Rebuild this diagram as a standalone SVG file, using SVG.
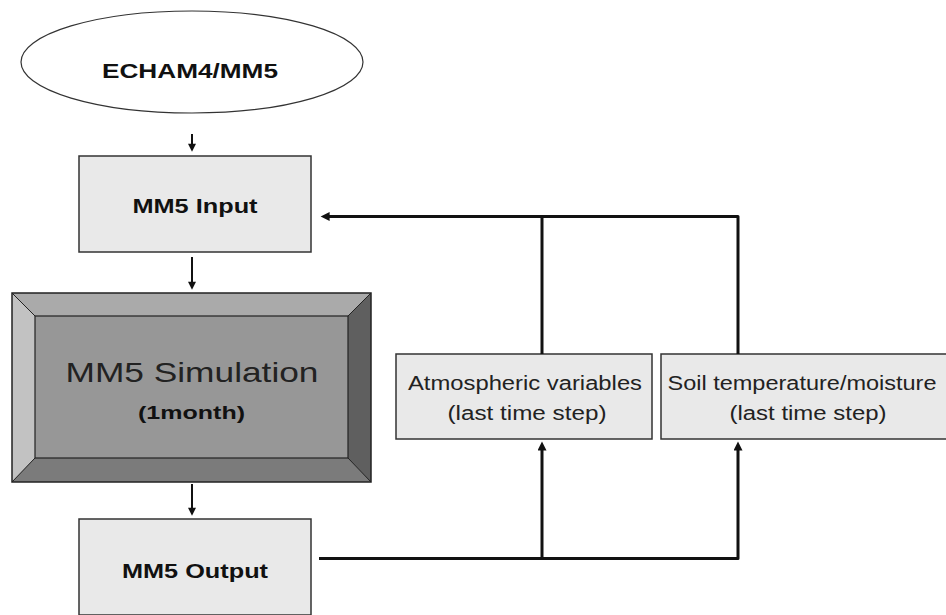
<svg xmlns="http://www.w3.org/2000/svg" width="946" height="615" viewBox="0 0 946 615">
<style>
.box{fill:#e9e9e9;stroke:#333;stroke-width:1.5}
.b{font-family:"Liberation Sans",Arial,sans-serif;font-weight:bold;fill:#111;text-anchor:middle}
.n{font-family:"Liberation Sans",Arial,sans-serif;fill:#222;text-anchor:middle}
.thin{fill:none;stroke:#111;stroke-width:2}
.thick{fill:none;stroke:#111;stroke-width:3;stroke-linejoin:round}
</style>
<defs>
<marker id="ah" viewBox="0 0 10 10" refX="4" refY="5" markerWidth="10" markerHeight="9" markerUnits="userSpaceOnUse" orient="auto">
<path d="M0,0 L10,5 L0,10 z" fill="#111"/>
</marker>
<marker id="ahs" viewBox="0 0 10 10" refX="4" refY="5" markerWidth="9" markerHeight="8" markerUnits="userSpaceOnUse" orient="auto">
<path d="M0,0 L10,5 L0,10 z" fill="#111"/>
</marker>
</defs>
<rect width="946" height="615" fill="#fff"/>
<g id="echam">
<ellipse cx="192" cy="62" rx="171" ry="51" fill="#fff" stroke="#333" stroke-width="1.2"/>
<text class="b" x="190" y="78" font-size="21" textLength="176" lengthAdjust="spacingAndGlyphs">ECHAM4/MM5</text>
</g>
<g id="mm5input">
<rect class="box" x="79" y="156" width="232" height="96"/>
<text class="b" x="195" y="213" font-size="20" textLength="125" lengthAdjust="spacingAndGlyphs">MM5 Input</text>
</g>
<g id="mm5sim">
<rect x="12" y="293" width="359" height="189" fill="#979797"/>
<polygon points="12,293 371,293 348,316 35,316" fill="#aaaaaa"/>
<polygon points="12,293 35,316 35,458 12,482" fill="#c2c2c2"/>
<polygon points="371,293 371,482 348,458 348,316" fill="#5f5f5f"/>
<polygon points="12,482 35,458 348,458 371,482" fill="#7b7b7b"/>
<rect x="35" y="316" width="313" height="142" fill="#979797" stroke="#222" stroke-width="1.2"/>
<path d="M12,293 L35,316 M371,293 L348,316 M12,482 L35,458 M371,482 L348,458" stroke="#222" stroke-width="1"/>
<rect x="12" y="293" width="359" height="189" fill="none" stroke="#222" stroke-width="1.5"/>
<text class="n" x="192" y="382" font-size="28" fill="#111" textLength="253" lengthAdjust="spacingAndGlyphs">MM5 Simulation</text>
<text class="b" x="191.5" y="419" font-size="18" textLength="107" lengthAdjust="spacingAndGlyphs">(1month)</text>
</g>
<g id="mm5output">
<rect class="box" x="79" y="519" width="232" height="96"/>
<text class="b" x="195" y="578" font-size="20" textLength="146" lengthAdjust="spacingAndGlyphs">MM5 Output</text>
</g>
<g id="atmos">
<rect class="box" x="396" y="354" width="256" height="85"/>
<text class="n" x="525" y="390" font-size="20" textLength="234" lengthAdjust="spacingAndGlyphs">Atmospheric variables</text>
<text class="n" x="527" y="420" font-size="20" textLength="159" lengthAdjust="spacingAndGlyphs">(last time step)</text>
</g>
<g id="soil">
<rect class="box" x="661" y="354" width="300" height="85"/>
<text class="n" x="802" y="390" font-size="20" textLength="269" lengthAdjust="spacingAndGlyphs">Soil temperature/moisture</text>
<text class="n" x="808" y="420" font-size="20" textLength="157" lengthAdjust="spacingAndGlyphs">(last time step)</text>
</g>
<g id="connectors">
<path class="thin" d="M192,134 V147" marker-end="url(#ahs)"/>
<path class="thin" d="M192,257 V285" marker-end="url(#ahs)"/>
<path class="thin" d="M192,484 V511" marker-end="url(#ahs)"/>
<path class="thick" d="M319,558.5 H738 V447" marker-end="url(#ah)"/>
<path class="thick" d="M542,558.5 V447" marker-end="url(#ah)"/>
<path class="thick" d="M542,354 V216.5"/>
<path class="thick" d="M738,354 V216.5 H326" marker-end="url(#ah)"/>
</g>
</svg>
